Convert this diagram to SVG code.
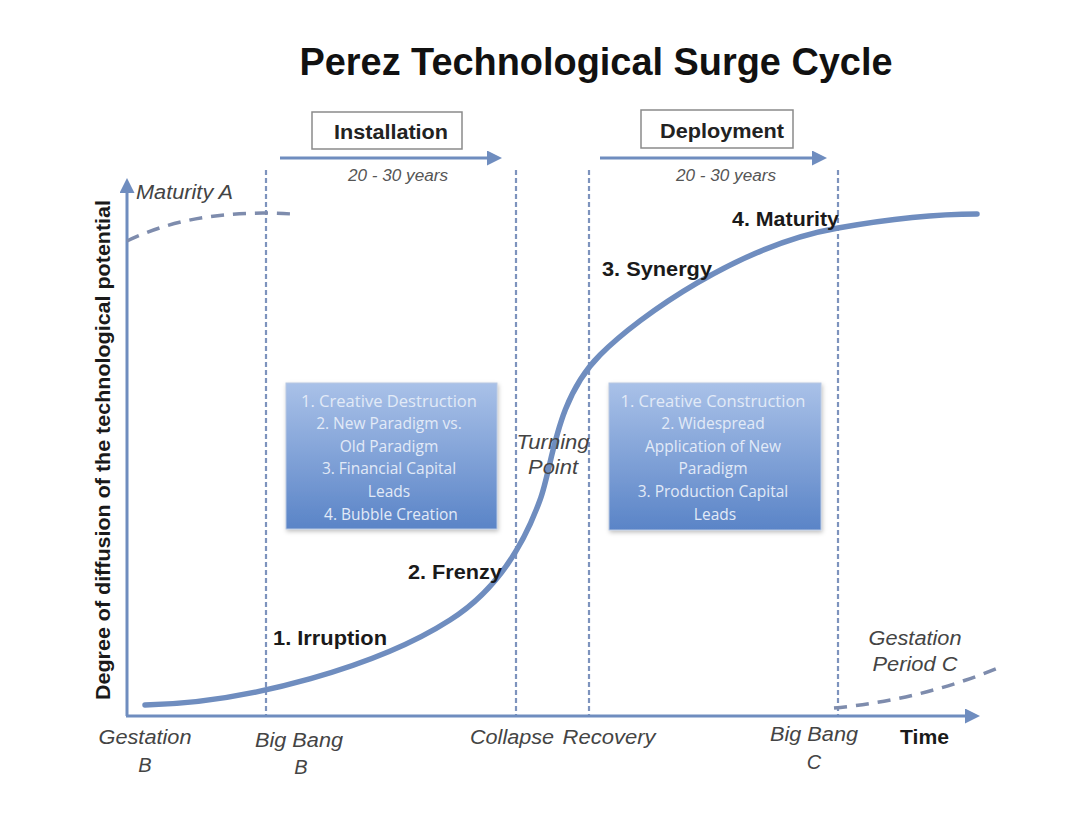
<svg xmlns="http://www.w3.org/2000/svg" width="1088" height="838" viewBox="0 0 1088 838">
<style>
.title{font-family:"Liberation Sans",Arial,sans-serif;font-weight:bold;font-size:38px;fill:#111}
.lbl{font-family:"Liberation Sans",Arial,sans-serif;font-weight:bold;font-size:20px;fill:#1a1a1a}
.it{font-family:"Liberation Sans",Arial,sans-serif;font-style:italic;font-size:20px;fill:#444}
.yrs{font-family:"Liberation Sans",Arial,sans-serif;font-style:italic;font-size:16px;fill:#555}
.phase{font-family:"Liberation Sans",Arial,sans-serif;font-weight:bold;font-size:20px;fill:#222}
.box{font-family:"Open Sans","Liberation Sans",sans-serif;font-size:15.5px;fill:#e2eaf7}
.vdash{stroke:#7d93bd;stroke-width:2.2;stroke-dasharray:5 3;fill:none}
.axis{stroke:#6f8dbf;stroke-width:3;fill:none}
.gdash{stroke:#7e8cad;stroke-width:3.5;stroke-dasharray:13 9;fill:none}
</style>
<defs>
<marker id="ah" viewBox="0 0 10 10" refX="2" refY="5" markerWidth="5" markerHeight="5" orient="auto" markerUnits="strokeWidth">
<path d="M0,0 L10,5 L0,10 z" fill="#6f8dbf"/>
</marker>
<linearGradient id="bg" x1="0" y1="0" x2="0" y2="1">
<stop offset="0" stop-color="#a9c1e8"/>
<stop offset="1" stop-color="#5a84c7"/>
</linearGradient>
<filter id="sh" x="-10%" y="-10%" width="125%" height="125%">
<feDropShadow dx="1" dy="2" stdDeviation="2" flood-color="#000" flood-opacity="0.25"/>
</filter>
</defs>
<rect width="1088" height="838" fill="#fff"/>
<text class="title" x="596" y="75" text-anchor="middle" textLength="593" lengthAdjust="spacingAndGlyphs">Perez Technological Surge Cycle</text>

<g id="connectors">
<line class="vdash" x1="266" y1="170" x2="266" y2="716"/>
<line class="vdash" x1="516" y1="170" x2="516" y2="716"/>
<line class="vdash" x1="589" y1="170" x2="589" y2="716"/>
<line class="vdash" x1="838" y1="170" x2="838" y2="716"/>
<line class="axis" x1="127" y1="716" x2="127" y2="190" marker-end="url(#ah)"/>
<line class="axis" x1="126" y1="716" x2="968" y2="716" marker-end="url(#ah)"/>
<line class="axis" x1="280" y1="158" x2="490" y2="158" marker-end="url(#ah)"/>
<line class="axis" x1="600" y1="158" x2="815" y2="158" marker-end="url(#ah)"/>
<path class="gdash" d="M127,241 Q195,208 292,214"/>
<path class="gdash" d="M834,708 Q920,700 998,668"/>
<path d="M145,705 C250,703 380,665 450,620 C490,595 520,555 540,500 C553,465 555,400 600,355 C640,315 740,245 838,228 C900,217 940,214 977,214" fill="none" stroke="#6f8dbf" stroke-width="5.5" stroke-linecap="round"/>
</g>

<g id="installation">
<rect x="312" y="112" width="150" height="37" fill="#fff" stroke="#8a8a8a" stroke-width="1.5"/>
<text class="phase" x="391" y="139" text-anchor="middle" textLength="114" lengthAdjust="spacingAndGlyphs">Installation</text>
<text class="yrs" x="398" y="181" text-anchor="middle" textLength="100" lengthAdjust="spacingAndGlyphs">20 - 30 years</text>
</g>
<g id="deployment">
<rect x="641" y="110" width="152" height="38" fill="#fff" stroke="#8a8a8a" stroke-width="1.5"/>
<text class="phase" x="722" y="138" text-anchor="middle" textLength="124" lengthAdjust="spacingAndGlyphs">Deployment</text>
<text class="yrs" x="726" y="181" text-anchor="middle" textLength="100" lengthAdjust="spacingAndGlyphs">20 - 30 years</text>
</g>

<g id="installation-box">
<rect x="286" y="383" width="211" height="146" fill="url(#bg)" stroke="#b8c8e2" stroke-width="1" filter="url(#sh)"/>
<text class="box" text-anchor="middle">
<tspan x="391" y="407" textLength="176" lengthAdjust="spacingAndGlyphs">1. Creative Destruction</tspan>
<tspan x="391" y="429">2. New Paradigm vs.</tspan>
<tspan x="391" y="452">Old Paradigm</tspan>
<tspan x="391" y="474">3. Financial Capital</tspan>
<tspan x="391" y="497">Leads</tspan>
<tspan x="391" y="520">4. Bubble Creation</tspan>
</text>
</g>
<g id="deployment-box">
<rect x="609" y="383" width="212" height="147" fill="url(#bg)" stroke="#b8c8e2" stroke-width="1" filter="url(#sh)"/>
<text class="box" text-anchor="middle">
<tspan x="715" y="407" textLength="185" lengthAdjust="spacingAndGlyphs">1. Creative Construction</tspan>
<tspan x="715" y="429">2. Widespread</tspan>
<tspan x="715" y="452">Application of New</tspan>
<tspan x="715" y="474">Paradigm</tspan>
<tspan x="715" y="497">3. Production Capital</tspan>
<tspan x="715" y="520">Leads</tspan>
</text>
</g>

<g id="y-label">
<text class="lbl" transform="translate(110,450) rotate(-90)" text-anchor="middle" textLength="500" lengthAdjust="spacingAndGlyphs">Degree of diffusion of the technological potential</text>
</g>
<g id="phases">
<text class="it" x="136" y="199" textLength="97" lengthAdjust="spacingAndGlyphs">Maturity A</text>
<text class="lbl" x="273" y="645" textLength="114" lengthAdjust="spacingAndGlyphs">1. Irruption</text>
<text class="lbl" x="408" y="579" textLength="94" lengthAdjust="spacingAndGlyphs">2. Frenzy</text>
<text class="lbl" x="602" y="276" textLength="110" lengthAdjust="spacingAndGlyphs">3. Synergy</text>
<text class="lbl" x="732" y="226" textLength="107" lengthAdjust="spacingAndGlyphs">4. Maturity</text>
<text class="it" x="553" y="449" text-anchor="middle" textLength="73" lengthAdjust="spacingAndGlyphs">Turning</text>
<text class="it" x="553" y="474" text-anchor="middle" textLength="50" lengthAdjust="spacingAndGlyphs">Point</text>
</g>
<g id="x-labels">
<text class="it" x="145" y="744" text-anchor="middle" textLength="93" lengthAdjust="spacingAndGlyphs">Gestation</text>
<text class="it" x="145" y="772" text-anchor="middle">B</text>
<text class="it" x="299" y="747" text-anchor="middle" textLength="88" lengthAdjust="spacingAndGlyphs">Big Bang</text>
<text class="it" x="301" y="774" text-anchor="middle">B</text>
<text class="it" x="512" y="744" text-anchor="middle" textLength="84" lengthAdjust="spacingAndGlyphs">Collapse</text>
<text class="it" x="609" y="744" text-anchor="middle" textLength="93" lengthAdjust="spacingAndGlyphs">Recovery</text>
<text class="it" x="814" y="741" text-anchor="middle" textLength="88" lengthAdjust="spacingAndGlyphs">Big Bang</text>
<text class="it" x="814" y="769" text-anchor="middle">C</text>
<text class="lbl" x="900" y="744" textLength="49" lengthAdjust="spacingAndGlyphs">Time</text>
<text class="it" x="915" y="645" text-anchor="middle" textLength="93" lengthAdjust="spacingAndGlyphs">Gestation</text>
<text class="it" x="915" y="671" text-anchor="middle" textLength="85" lengthAdjust="spacingAndGlyphs">Period C</text>
</g>
</svg>
